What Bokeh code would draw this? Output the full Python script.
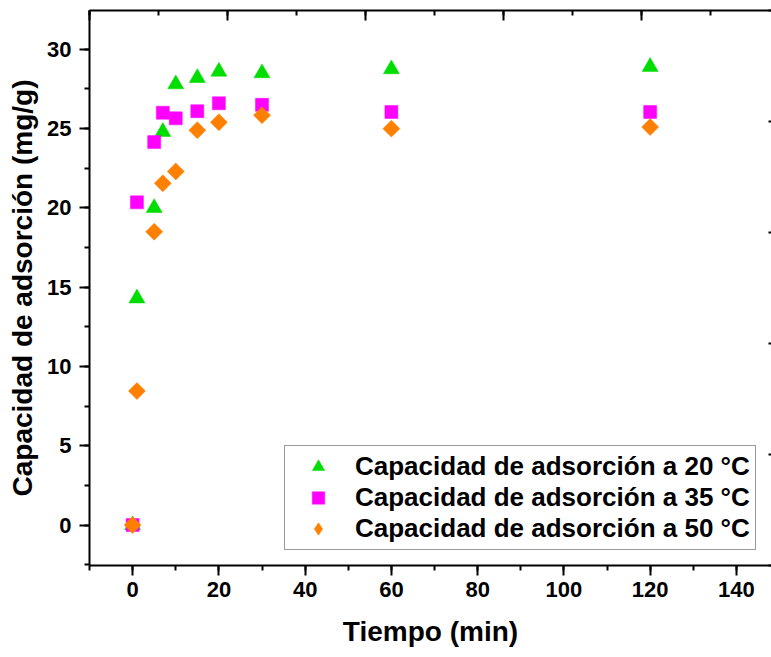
import numpy as np
from bokeh.plotting import figure
from bokeh.models import (Range1d, LinearAxis, SingleIntervalTicker, Legend,
                          LegendItem, ColumnDataSource)
from bokeh.embed import file_html
from bokeh.resources import INLINE

# ---- data ----
tiempo = [0, 1, 5, 7, 10, 15, 20, 30, 60, 120]
q_20 = [0, 14.3, 20.0, 24.8, 27.8, 28.2, 28.6, 28.5, 28.75, 28.9]
q_35 = [0, 20.35, 24.15, 26.0, 25.65, 26.1, 26.6, 26.5, 26.05, 26.05]
q_50 = [0, 8.45, 18.5, 21.55, 22.3, 24.9, 25.4, 25.85, 25.0, 25.1]
series_labels = ["Capacidad de adsorción a 20 °C",
                 "Capacidad de adsorción a 35 °C",
                 "Capacidad de adsorción a 50 °C"]
x_title = "Tiempo (min)"
y_title = "Capacidad de adsorción (mg/g)"

FONT = "Liberation Sans"
GREEN, MAGENTA, ORANGE = "#00DD00", "#FF00FF", "#FF8000"

src = ColumnDataSource(dict(t=tiempo, q20=q_20, q35=q_35, q50=q_50))
# a legend-only source: one undefined point, so nothing is drawn in the plot
legend_only = ColumnDataSource(dict(t=[np.nan], q=[np.nan]))

p = figure(width=771, height=657, output_backend="svg", toolbar_location=None,
           x_range=Range1d(-10, 148.14), y_range=Range1d(-2.55, 32.45),
           min_border_left=89, min_border_right=0, min_border_top=10,
           min_border_bottom=92)
p.outline_line_color = None
p.xgrid.visible = False
p.ygrid.visible = False
p.background_fill_color = "white"
p.border_fill_color = "white"

xa = p.below[0]
ya = p.left[0]
xa.ticker = SingleIntervalTicker(interval=20, num_minor_ticks=2)
ya.ticker = SingleIntervalTicker(interval=5, num_minor_ticks=2)
for ax in (xa, ya):
    ax.axis_line_width = 2
    ax.axis_line_color = "black"
    ax.major_tick_line_width = 2
    ax.minor_tick_line_width = 2
    ax.major_tick_line_color = "black"
    ax.minor_tick_line_color = "black"
    ax.major_tick_out = 10
    ax.major_tick_in = 0
    ax.minor_tick_out = 5
    ax.minor_tick_in = 0
    ax.major_label_text_font = FONT
    ax.major_label_text_font_style = "bold"
    ax.major_label_text_font_size = "22px"
    ax.major_label_text_color = "black"
    ax.axis_label_text_font = FONT
    ax.axis_label_text_font_style = "bold"
    ax.axis_label_text_font_size = "28px"
    ax.axis_label_text_color = "black"
xa.axis_label = x_title
ya.axis_label = y_title
xa.major_label_standoff = 6
xa.axis_label_standoff = 16
ya.major_label_standoff = 8
ya.axis_label_standoff = 6

# top axis (mirror frame, ticks inward, no labels)
p.extra_x_ranges = {"top": Range1d(0, 682 / 138)}
top = LinearAxis(x_range_name="top",
                 ticker=SingleIntervalTicker(interval=1, num_minor_ticks=2))
top.axis_line_width = 2
top.major_tick_line_width = 2
top.minor_tick_line_width = 2
top.major_tick_in = 10
top.major_tick_out = 0
top.minor_tick_in = 5
top.minor_tick_out = 0
top.major_label_text_font_size = "0px"
top.major_label_text_color = None
top.major_label_standoff = 0
p.add_layout(top, "above")

# right axis (frame edge falls just outside the picture: only tick stubs show)
p.extra_y_ranges = {"right": Range1d(0, 5)}
right = LinearAxis(y_range_name="right",
                   ticker=SingleIntervalTicker(interval=1, num_minor_ticks=0))
right.axis_line_color = None
right.major_tick_line_width = 2
right.major_tick_in = 3
right.major_tick_out = 0
right.minor_tick_line_color = None
right.major_label_text_font_size = "0px"
right.major_label_text_color = None
right.major_label_standoff = 0
p.add_layout(right, "right")

r20 = p.scatter("t", "q20", source=src, marker="triangle", size=16,
                fill_color=GREEN, line_color=GREEN, line_width=0.5)
r35 = p.scatter("t", "q35", source=src, marker="square", size=13,
                fill_color=MAGENTA, line_color=MAGENTA, line_width=0.5)
r50 = p.scatter("t", "q50", source=src, marker="square", size=12,
                angle=np.pi / 4, fill_color=ORANGE, line_color=ORANGE,
                line_width=0.5)
# legend markers are drawn unrotated, so the legend uses a diamond marker
r50_leg = p.scatter("t", "q", source=legend_only, marker="diamond", size=12,
                    fill_color=ORANGE, line_color=ORANGE, line_width=0.5)

legend = Legend(items=[LegendItem(label=series_labels[0], renderers=[r20]),
                       LegendItem(label=series_labels[1], renderers=[r35]),
                       LegendItem(label=series_labels[2], renderers=[r50_leg])],
                location=(195, 15), padding=5, spacing=0, margin=0,
                glyph_width=56, glyph_height=31, label_height=31,
                label_standoff=9,
                label_text_font=FONT, label_text_font_style="bold",
                label_text_font_size="26px", label_text_color="black",
                border_line_color="#333333", border_line_width=1,
                background_fill_color="white", background_fill_alpha=1.0)
p.add_layout(legend)

open("out.html", "w").write(file_html(p, INLINE))
